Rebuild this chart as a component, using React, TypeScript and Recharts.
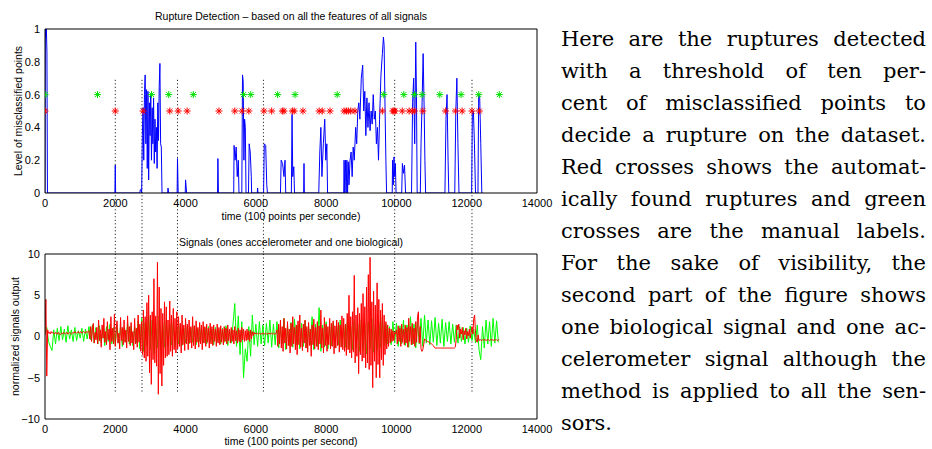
import React from "react";
import { ComposedChart, Line, Scatter, XAxis, YAxis, ReferenceLine, Label } from "recharts";

const SANS = '"Liberation Sans", Arial, sans-serif';

// shared time axis (100 points per second)
const X_DOMAIN = [0, 14000];
const X_TICKS = [0, 2000, 4000, 6000, 8000, 10000, 12000, 14000];

// detected rupture positions (dotted lines through both panels)
const RUPTURES = [2000, 2760, 3770, 6215, 9950, 12150];

// top panel: level of misclassified points
const BLUE_T = [
  0, 10, 30, 40, 55, 70,
  1990, 2000, 2010,
  2700, 2710, 2740, 2750, 2770, 2790, 2810, 2830, 2850, 2870, 2890, 2910, 2930, 2950, 2970, 2990, 3010,
  3030, 3050, 3070, 3090, 3110, 3130, 3150, 3170, 3190, 3210, 3230, 3250, 3270, 3290, 3310, 3330,
  3490, 3500, 3520,
  3760, 3770, 3790,
  3990, 4000, 4030,
  4910, 4920, 4935,
  5370, 5380, 5410, 5440, 5470, 5500, 5520,
  5600, 5620, 5640, 5660, 5680, 5700, 5720,
  5790, 5810, 5840, 5870, 5880,
  6040, 6050, 6060,
  6220, 6240, 6280, 6310, 6330,
  6700, 6720, 6760, 6800, 6830, 6850,
  7010, 7030, 7050, 7080, 7100,
  7360, 7370, 7380,
  7790, 7820, 7850, 7880, 7920, 7960, 7990, 8020, 8040,
  8500, 8510, 8530, 8550, 8570, 8590, 8610, 8630, 8650, 8680, 8710, 8740, 8770, 8800, 8840, 8870,
  8900, 8930, 8960, 9000, 9040, 9070, 9100, 9130, 9160, 9190, 9220, 9250, 9280, 9310, 9340, 9370,
  9400, 9430, 9460, 9490, 9520, 9560, 9600, 9630, 9650, 9670, 9700, 9720,
  9880, 9890, 9910, 9930, 9950, 9970, 9990,
  10150, 10170, 10200, 10230, 10260,
  10430, 10460, 10490, 10520, 10550, 10570, 10590,
  10680, 10700, 10730, 10760, 10790, 10810, 10830,
  11380, 11410, 11440, 11470, 11490,
  11660, 11690, 11720, 11750, 11780,
  12140, 12160, 12190, 12220, 12250,
  12320, 12340, 12370, 12400, 12430, 12450,
];
const BLUE_V = [
  0, 1, 0.95, 1, 0.86, 0,
  0, 0.17, 0,
  0, 0.02, 0.02, 0, 0.35, 0.52, 0.2, 0.6, 0.72, 0.3, 0.63, 0.15, 0.62, 0.08, 0.55, 0.35, 0.6,
  0.2, 0.52, 0.3, 0.58, 0.18, 0.45, 0.25, 0.4, 0.15, 0.55, 0.32, 0.65, 0.79, 0.3, 0.28, 0,
  0, 0.03, 0,
  0, 0.21, 0,
  0, 0.08, 0,
  0, 0.21, 0,
  0, 0.29, 0.2, 0.28, 0.1, 0.2, 0,
  0, 0.72, 0.68, 0.2, 0.45, 0.4, 0,
  0, 0.3, 0.25, 0.1, 0,
  0, 0.03, 0,
  0, 0.3, 0.29, 0.05, 0,
  0, 0.2, 0.18, 0.1, 0.2, 0,
  0, 0.48, 0.1, 0.16, 0,
  0, 0.18, 0,
  0, 0.25, 0.4, 0.1, 0.3, 0.45, 0.2, 0.3, 0,
  0, 0.2, 0, 0.2, 0, 0.2, 0, 0.19, 0.05, 0.2, 0.25, 0.1, 0.28, 0.2, 0.4, 0.3,
  0.5, 0.55, 0.45, 0.7, 0.78, 0.5, 0.62, 0.35, 0.58, 0.4, 0.55, 0.38, 0.5, 0.42, 0.6, 0.45,
  0.5, 0.3, 0.4, 0.2, 0.45, 0.72, 0.85, 0.95, 0.9, 0.6, 0.2, 0,
  0, 0.2, 0.05, 0.22, 0.1, 0.18, 0,
  0, 0.18, 0.12, 0.17, 0,
  0, 0.55, 0.7, 0.3, 0.92, 0.6, 0,
  0, 0.3, 0.55, 0.85, 0.5, 0.2, 0,
  0, 0.45, 0.6, 0.2, 0,
  0, 0.5, 0.7, 0.3, 0,
  0, 0.48, 0.5, 0.3, 0,
  0, 0.6, 0.58, 0.3, 0, 0,
];

// manual labels (green) and automatically found ruptures (red)
const GREEN_MARKS = [0, 1495, 3030, 3520, 4220, 5650, 5855, 6620, 7115, 8315, 9640, 10210, 10512, 10732, 11234, 11840, 12342, 12928];
const GREEN_LEVEL = 0.6;
const RED_MARKS = [
  0, 2000, 2790, 3550, 3790, 4045, 4950, 5400, 5610, 5800, 6230, 6450, 6755, 6800, 7040, 7090, 7340,
  7800, 7890, 8110, 8510, 8575, 8630, 8700, 8820, 9600, 9900, 9930, 9960, 10165, 10360, 10450, 10510,
  10750, 11400, 11680, 11870, 12150, 12360,
];
const RED_LEVEL = 0.5;

// bottom panel: accelerometer signal (green), one value every 50 points
const GREEN_STEP = 50;
const GREEN_SIG = [
  0.3, 1.1, -0.6, -1.2, -1.7, 0.8, -0.9, 1.0, -0.5, 1.2,
  -0.4, 0.9, -0.7, 1.3, -0.3, 0.8, -0.6, 1.1, -0.5, 0.7,
  -0.2, 1.0, -0.6, 0.9, -0.3, 1.2, -0.4, 1.4, -0.8, 1.1,
  -0.9, 1.3, -0.7, 1.0, -1.1, 1.2, -0.6, 1.5, -0.9, 1.1,
  -1.0, 1.4, -0.8, 1.2, -1.2, 1.0, -0.7, 1.6, -0.9, 1.3,
  -1.1, 1.2, -0.8, 1.9, -1.5, 2.2, -1.8, 1.7, -1.2, 2.4,
  -1.6, 2.0, -2.1, 1.8, -1.4, 2.5, -1.7, 1.6, -1.3, 1.9,
  -1.2, 1.5, -1.0, 1.7, -1.3, 1.2, -0.9, 1.4, -1.1, 1.0,
  -0.8, 1.2, -0.9, 1.0, -0.7, 1.3, -1.0, 0.9, -0.6, 1.1,
  -0.8, 1.0, -0.9, 1.2, -0.7, 0.9, -1.0, 1.1, -0.6, 0.8,
  -0.9, 1.0, -0.7, 1.3, -1.1, 0.9, -0.8, 1.5, 4.0, -1.2,
  2.5, -2.2, 1.8, -5.0, -1.5, -3.0, 1.2, -2.4, 2.6, -1.0,
  1.5, -1.2, 1.8, -0.9, 1.4, -1.1, 1.6, -0.8, 2.0, -1.3,
  1.5, -1.0, 1.8, -1.4, 1.2, -0.9, 2.2, -1.6, 1.3, -1.1,
  1.7, -1.3, 2.1, -1.0, 1.4, -1.5, 1.6, -1.2, 1.9, -1.4,
  1.3, -1.0, 2.4, -1.6, 1.5, -1.2, 3.5, -1.8, 1.4, -1.3,
  1.8, -1.5, 1.2, -1.1, 1.6, -1.4, 1.3, -1.0, 2.0, -1.2,
  1.4, -1.3, 1.7, -1.5, 1.2, -1.6, 1.9, -1.4, 1.5, -1.8,
  2.0, -1.7, 1.6, -2.1, 1.8, -1.5, 2.2, -1.9, 1.4, -1.6,
  1.7, -1.3, 2.3, -1.1, 1.5, -0.9, 1.2, -1.0, 1.8, -0.8,
  1.6, -1.2, 1.3, -0.9, 2.0, -1.1, 1.4, -1.3, 2.4, -1.0,
  1.5, -1.4, 1.8, -0.9, 2.2, -1.2, 2.6, -0.8, 2.0, -1.0,
  1.9, -0.7, 2.3, -1.1, 1.6, -0.8, 2.1, -1.2, 1.7, -0.6,
  1.8, -0.9, 1.5, -0.7, 1.4, -0.8, 1.2, -0.6, 1.1, -0.9,
  1.0, -0.7, 1.3, -0.5, 0.9, -0.8, 1.4, -1.6, -2.8, 1.2,
  -1.4, 2.0, -0.9, 1.8, -1.2, 2.2, -0.8, 1.9, -0.7,
];

// bottom panel: biological signal (red), one value every 25 points
const RED_STEP = 25;
const RED_SIG = [
  0.2, 4.5, -4.8, 0.8, 0.4, 0.5, 0.3, 0.6, 0.4, 0.5,
  0.4, 0.3, 0.5, 0.4, 0.3, 0.5, 0.4, 0.2, 0.3, 0.4,
  0.3, 0.5, 0.4, 0.3, 0.4, 0.5, 0.3, 0.4, 0.5, 0.4,
  0.3, 0.4, 0.5, 0.4, 0.6, 0.5, 0.4, 0.5, 0.6, 0.4,
  0.5, 0.6, 0.4, 0.5, 0.6, 0.5, 0.4, 0.6, 0.5, 0.6,
  0.7, -0.3, 1.2, -0.6, 0.9, 1.6, -0.8, 0.5, -0.4, 1.1,
  -0.9, 2.0, -0.5, 0.8, -1.3, 1.4, -0.2, 2.2, -0.7, 0.6,
  -1.0, 1.8, -0.4, 0.9, -1.6, 2.4, -0.6, 1.0, -0.9, 2.7,
  -1.2, 0.7, 1.9, -0.8, 0.4, -1.5, 2.3, -0.5, 1.1, -1.0,
  2.0, -0.7, 0.8, -1.4, 2.5, -0.6, 1.2, -1.1, 1.7, -0.8,
  0.6, -1.6, 2.2, -0.9, 1.0, -1.3, 2.6, -0.7, 1.5, -1.8,
  1.8, -2.2, 3.2, -2.6, 2.4, -3.0, 4.1, -2.4, 5.0, -4.4,
  2.6, -5.8, 3.0, -2.8, 7.0, -3.2, 2.5, -3.6, 9.0, -7.0,
  6.0, -4.5, 3.4, -6.0, 2.8, -3.5, 4.2, -2.6, 3.6, -2.4,
  2.0, -2.2, 4.3, -1.8, 2.6, -2.4, 3.4, -1.6, 2.2, -2.0,
  3.0, -1.5, 2.4, -1.2, 1.6, -2.0, 2.6, -1.0, 1.4, -1.7,
  2.2, -0.9, 1.5, -1.6, 2.0, -0.8, 1.2, -1.4, 2.4, -1.1,
  1.3, -1.5, 1.9, -0.7, 1.1, -1.3, 1.7, -0.9, 1.4, -1.6,
  1.8, -0.8, 1.2, -1.2, 1.5, -0.7, 1.0, -1.4, 1.6, -0.9,
  1.2, -1.1, 1.4, -0.6, 0.9, -1.2, 1.5, -0.8, 1.1, -1.0,
  1.3, -0.7, 0.9, -1.0, 1.2, -0.6, 1.0, -0.9, 1.4, -0.5,
  0.9, -0.8, 1.1, -0.6, 0.8, -0.9, 1.2, -0.5, 0.7, -0.8,
  1.0, -0.6, 0.8, -0.7, 1.1, -0.4, 0.9, -0.6, 0.7, -0.5,
  0.9, -0.4, 0.7, -0.6, 0.8, -0.3, 0.6, 0.1, 0.5, 0.3,
  0.4, 0.3, 0.4, 0.3, 0.4, 0.3, 0.3, 0.4, 0.3, 0.4,
  0.3, 0.4, 0.3, 0.3, 0.4, 0.3, 0.4, 0.3, 0.4, 0.3,
  0.4, 0.3, 0.3, 0.4, 0.8, -1.2, 1.5, -0.9, 2.0, -1.4,
  1.2, -1.8, 2.2, -0.8, 1.0, -1.5, 1.8, -1.1, 0.9, -2.0,
  1.6, -1.2, 2.4, -0.9, 1.1, -1.6, 1.4, -2.2, 1.9, -1.0,
  2.6, -1.3, 1.0, -1.7, 1.5, -0.8, 2.0, -1.4, 1.2, -1.9,
  1.7, -1.1, 0.9, -2.4, 1.4, -1.0, 2.1, -1.5, 1.1, -1.2,
  1.8, -1.6, 1.3, -0.9, 3.2, -1.4, 1.0, -2.0, 2.3, -1.1,
  1.5, -1.8, 1.2, -1.0, 2.2, -1.5, 1.6, -1.2, 1.9, -2.1,
  1.3, -1.4, 2.0, -1.1, 1.7, -1.9, 1.4, -1.3, 2.5, -1.6,
  2.2, -1.8, 1.5, -2.3, 2.8, -1.6, 5.0, -2.0, 2.4, -2.6,
  3.0, -1.9, 7.4, -3.2, 2.6, -2.4, 3.5, -4.5, 2.8, -2.2,
  4.0, -3.0, 5.2, -2.6, 3.6, -3.8, 6.0, -3.2, 7.5, -4.0,
  9.6, -3.5, 4.2, -6.2, 5.5, -3.0, 3.8, -5.0, 6.5, -3.4,
  4.5, -5.0, 3.2, -2.8, 4.0, -3.5, 2.6, -2.2, 1.8, -1.5,
  1.4, -1.2, 1.0, -0.8, 0.9, -0.6, 0.7, -0.5, 0.5, 0.3,
  0.8, -0.9, 1.3, -0.6, 1.0, -1.2, 1.5, -0.7, 0.9, -1.0,
  1.4, -0.8, 1.1, -1.3, 2.2, -0.6, 1.2, -1.0, 1.6, -0.9,
  1.0, -1.2, 1.8, -0.7, 2.4, 3.0, -0.8, 1.2, -1.5, -1.8,
  -1.6, -1.0, -0.3, -0.4, -0.5, -0.6, -0.6, -0.7, -0.8, -0.8,
  -0.9, -1.0, -1.1, -1.3, -1.4, -1.4, -1.4, -1.4, -1.4, -1.4,
  -1.4, -1.4, -1.4, -1.4, -1.4, -1.4, -1.4, -1.4, -1.4, -1.4,
  -1.4, -1.4, -1.4, -1.4, -1.4, -1.4, -1.4, -1.3, -0.4, 1.4,
  0.8, 1.5, -0.2, 0.9, 0.3, 1.1, -0.4, 0.7, 0.2, 1.0,
  -0.3, 0.6, 0.1, 0.9, -0.2, 0.5, 1.2, 0.3, 2.2, 2.6,
  0.4, -0.6, -0.7, 0.2, -0.5, -0.4, -0.4, -0.5, -0.4, -0.4,
  -0.4, -0.4, -0.5, -0.4, -0.4, -0.4, -0.5, -0.4, -0.4, -0.4,
  -0.4, -0.5, -0.4, -0.4, -0.4, -0.5, -0.4, -0.4,
];

const TEXT_LINES = [
  "Here are the ruptures detected",
  "with a threshold of ten per-",
  "cent of misclassified points to",
  "decide a rupture on the dataset.",
  "Red crosses shows the automat-",
  "ically found ruptures and green",
  "crosses are the manual labels.",
  "For the sake of visibility, the",
  "second part of the figure shows",
  "one biological signal and one ac-",
  "celerometer signal although the",
  "method is applied to all the sen-",
  "sors.",
];

const blueData = BLUE_T.map((t, i) => ({ t, v: BLUE_V[i] }));
const greenMarks = GREEN_MARKS.map((t) => ({ t, v: GREEN_LEVEL }));
const redMarks = RED_MARKS.map((t) => ({ t, v: RED_LEVEL }));
const greenData = GREEN_SIG.map((v, i) => ({ t: i * GREEN_STEP, v }));
const redData = RED_SIG.map((v, i) => ({ t: i * RED_STEP, v }));

const star = (color: string) => (props: any) => {
  const { cx, cy } = props;
  if (cx == null || cy == null) return <g />;
  const r = 3.5;
  const d = 2.5;
  return (
    <path
      d={`M${cx - r},${cy}L${cx + r},${cy}M${cx},${cy - r}L${cx},${cy + r}M${cx - d},${cy - d}L${cx + d},${cy + d}M${cx - d},${cy + d}L${cx + d},${cy - d}`}
      stroke={color}
      strokeWidth={1}
      fill="none"
    />
  );
};

const tickStyle = { fontSize: 11, fill: "#000" };
const blank = () => "";
const black = { stroke: "#000" };

// matlab-like box: labelled bottom/left axes plus inward ticks on all four sides
function frame(yDomain: number[], yTicks: number[], yFmt: (v: number) => string, xLabel: string, yLabel: string, xOff: number, yOff: number) {
  return [
    <XAxis key="xb" type="number" dataKey="t" domain={X_DOMAIN} ticks={X_TICKS} interval={0} allowDataOverflow
      height={30} tickLine={false} tickSize={0} tickMargin={6} tick={tickStyle} axisLine={black}>
      <Label value={xLabel} position="bottom" offset={xOff} style={{ fontSize: 10.5, fill: "#000" }} />
    </XAxis>,
    <XAxis key="xbm" xAxisId="bm" type="number" dataKey="t" domain={X_DOMAIN} ticks={X_TICKS} interval={0}
      mirror tickSize={4} tickFormatter={blank} axisLine={false} tickLine={black} />,
    <XAxis key="xt" xAxisId="top" orientation="top" type="number" dataKey="t" domain={X_DOMAIN} ticks={X_TICKS} interval={0}
      mirror tickSize={4} tickFormatter={blank} axisLine={black} tickLine={black} />,
    <YAxis key="yl" type="number" domain={yDomain} ticks={yTicks} interval={0} allowDataOverflow
      width={45} tickLine={false} tickSize={0} tickMargin={5} tickFormatter={yFmt} tick={tickStyle} axisLine={black}>
      <Label value={yLabel} angle={-90} position="insideLeft" offset={yOff} style={{ textAnchor: "middle", fontSize: 10.5, fill: "#000" }} />
    </YAxis>,
    <YAxis key="ylm" yAxisId="lm" type="number" domain={yDomain} ticks={yTicks} interval={0}
      mirror tickSize={4} tickFormatter={blank} axisLine={false} tickLine={black} />,
    <YAxis key="yr" yAxisId="right" orientation="right" type="number" domain={yDomain} ticks={yTicks} interval={0}
      mirror tickSize={4} tickFormatter={blank} axisLine={black} tickLine={black} />,
  ];
}

const fmtTop = (v: number) => String(v);
const fmtBottom = (v: number) => (v < 0 ? "\u2212" + Math.abs(v) : String(v));

export default function App() {
  return (
    <div style={{ position: "absolute", left: 0, top: 0, width: 932, height: 449, background: "#fff", fontFamily: SANS }}>
      <div style={{ position: "absolute", left: 45, top: 9, width: 492, textAlign: "center", fontSize: 10.5, lineHeight: "14px" }}>
        Rupture Detection – based on all the features of all signals
      </div>
      <div style={{ position: "absolute", left: 0, top: 0 }}>
        <ComposedChart width={560} height={256} margin={{ top: 29, right: 23, bottom: 33, left: 0 }}>
          {frame([0, 1], [0, 0.2, 0.4, 0.6, 0.8, 1], fmtTop, "time (100 points per seconde)", "Level of misclassified points", -10, 18)}
          {RUPTURES.map((x) => (
            <ReferenceLine key={x} segment={[{ x, y: 0.69 }, { x, y: -0.372 }]} ifOverflow="visible"
              stroke="#000" strokeWidth={1} strokeDasharray="1 2.5" />
          ))}
          <Line data={blueData} dataKey="v" type="linear" stroke="#0000ff" strokeWidth={1} dot={false} isAnimationActive={false} />
          <Scatter data={greenMarks} dataKey="v" shape={star("#00e000")} isAnimationActive={false} />
          <Scatter data={redMarks} dataKey="v" shape={star("#ff0000")} isAnimationActive={false} />
        </ComposedChart>
      </div>

      <div style={{ position: "absolute", left: 45, top: 235, width: 492, textAlign: "center", fontSize: 10.5, lineHeight: "14px" }}>
        Signals (ones accelerometer and one biological)
      </div>
      <div style={{ position: "absolute", left: 0, top: 225 }}>
        <ComposedChart width={560} height={224} margin={{ top: 29, right: 23, bottom: 0, left: 0 }}>
          {frame([-10, 10], [-10, -5, 0, 5, 10], fmtBottom, "time (100 points per second)", "normalized signals output", -11, 15)}
          {RUPTURES.map((x) => (
            <ReferenceLine key={x} segment={[{ x, y: 10 }, { x, y: -6.8 }]} ifOverflow="visible"
              stroke="#000" strokeWidth={1} strokeDasharray="1 2.5" />
          ))}
          <Line data={greenData} dataKey="v" type="linear" stroke="#00ff00" strokeWidth={1} dot={false} isAnimationActive={false} />
          <Line data={redData} dataKey="v" type="linear" stroke="#ff0000" strokeWidth={1} dot={false} isAnimationActive={false} />
        </ComposedChart>
      </div>

      <div style={{ position: "absolute", left: 561, top: 23, width: 365, fontFamily: '"DejaVu Serif", serif', fontSize: 21, lineHeight: "32px", color: "#000" }}>
        {TEXT_LINES.map((line, i) => (
          <div key={i} style={{ textAlign: "justify", textAlignLast: i === TEXT_LINES.length - 1 ? "left" : "justify", whiteSpace: "nowrap" }}>
            {line}
          </div>
        ))}
      </div>
    </div>
  );
}
